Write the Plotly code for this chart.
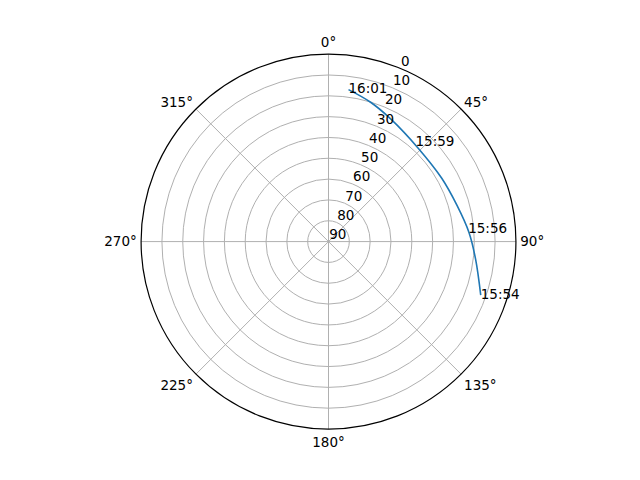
import plotly.graph_objects as go

# satellite pass: azimuth (deg, clockwise from north) and elevation (deg)
path_az = [7.5, 16.8, 27.0, 43.7, 60.8, 74.3, 86.3, 97.0, 109.4]
path_el = [16.4, 20.1, 24.0, 27.8, 27.7, 25.9, 22.4, 18.8, 12.5]

label_times = ["16:01", "15:59", "15:56", "15:54"]
label_az = [7.5, 41.4, 85.3, 109.4]
label_el = [16.4, 26.8, 22.7, 12.5]

elev_ticks = [0, 10, 20, 30, 40, 50, 60, 70, 80, 90]
az_ticks = [0, 45, 90, 135, 180, 225, 270, 315]

font = dict(family="DejaVu Sans", size=13.5, color="black")

fig = go.Figure()
fig.add_trace(go.Scatterpolar(
    r=[90 - e for e in path_el], theta=path_az,
    mode="lines", line=dict(color="#1f77b4", width=1.6, shape="spline"),
    showlegend=False, hoverinfo="skip",
))
fig.add_trace(go.Scatterpolar(
    r=[90 - e for e in label_el], theta=label_az,
    mode="text", text=label_times, textposition="middle right",
    textfont=font, showlegend=False, hoverinfo="skip",
))
# empty trace so the second polar (radial labels only) gets drawn
fig.add_trace(go.Scatterpolar(
    r=[0], theta=[0], mode="markers", marker=dict(opacity=0),
    subplot="polar2", showlegend=False, hoverinfo="skip",
))

grid = dict(gridcolor="#b0b0b0", gridwidth=0.8)

fig.update_layout(
    width=640, height=480,
    margin=dict(l=0, r=0, t=0, b=0),
    paper_bgcolor="white",
    font=font,
    polar=dict(
        domain=dict(x=[0.1078, 0.8938], y=[0.1229, 0.9038]),
        bgcolor="white",
        angularaxis=dict(
            rotation=90, direction="clockwise",
            tickvals=az_ticks, ticktext=[f"{a}°" for a in az_ticks],
            showline=True, linecolor="black", linewidth=1.2,
            ticks="outside", ticklen=1, tickcolor="rgba(0,0,0,0)",
            tickfont=font, **grid,
        ),
        radialaxis=dict(
            range=[0, 90], tickvals=[90 - e for e in elev_ticks],
            showline=False, ticks="", showticklabels=False, **grid,
        ),
    ),
    # radial labels sit a bit up/right of the rings, like matplotlib
    polar2=dict(
        domain=dict(x=[0.0984, 0.8844], y=[0.1479, 0.9288]),
        bgcolor="rgba(0,0,0,0)",
        angularaxis=dict(
            rotation=90, direction="clockwise", showline=False,
            showgrid=False, showticklabels=False, ticks="",
        ),
        radialaxis=dict(
            range=[0, 90], angle=67.5, side="clockwise",
            tickvals=[90 - e for e in elev_ticks],
            ticktext=[str(e) for e in elev_ticks],
            showline=False, showgrid=False, ticks="",
            tickfont=font, tickangle=67.5,
        ),
    ),
)

fig.write_html("out.html")
